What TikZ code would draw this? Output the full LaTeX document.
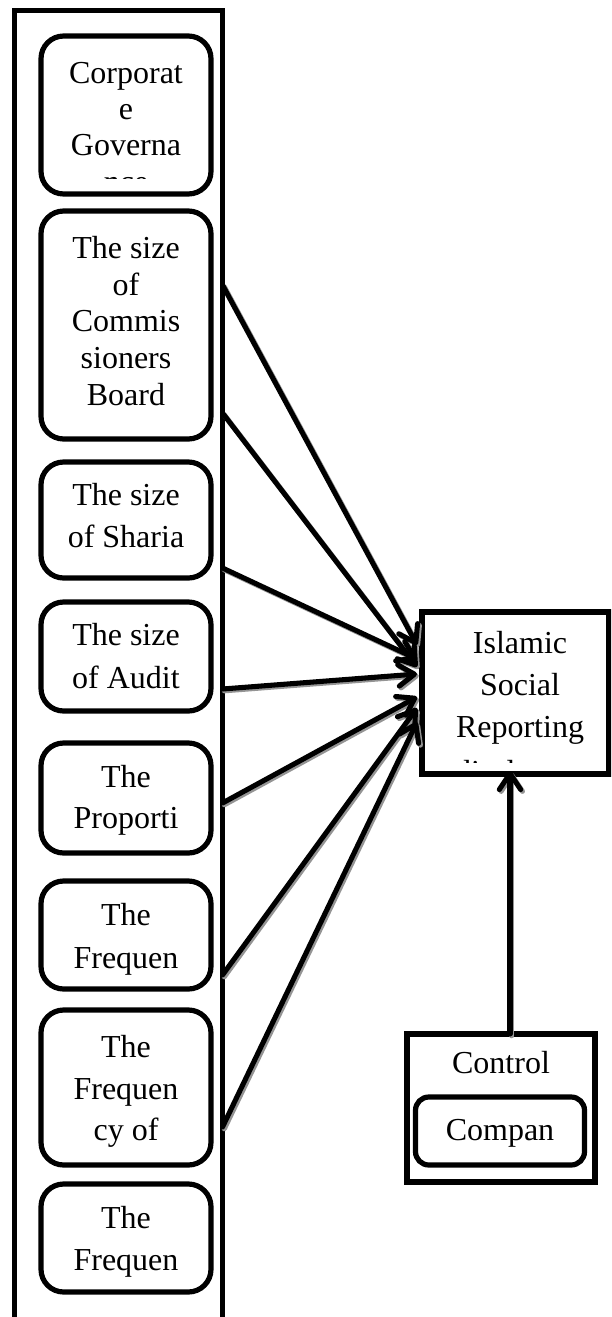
\documentclass[tikz,border=0pt]{standalone}
\usepackage{fontspec}
\setmainfont{Liberation Serif}
\usetikzlibrary{arrows.meta,fit}
\begin{document}
\begin{tikzpicture}[x=0.75pt,y=-0.75pt,
  boxline/.style={line width=3.9pt},
  sqbox/.style={draw, boxline, inner sep=0pt},
  rbox/.style={draw, boxline, inner sep=0pt, rounded corners=17pt},
  txt/.style={font=\fontsize{24}{28}\selectfont, inner sep=0pt, anchor=base},
  conn/.style={line width=3.8pt, line cap=round, -{Straight Barb[length=12pt,width=16pt,round]}},
  shadowline/.style={conn, draw=black!42}
]
\useasboundingbox (0,0) rectangle (611,1317);
\clip (0,0) rectangle (611,1317);
\fill[white] (0,0) rectangle (611,1317);

% outer frame
\node[sqbox, fit={(14.5,10.5)(222.5,1345)}] (outer) {};

% left boxes
\node[rbox, fit={(41,36)(211,194)}] (b1) {};
\node[rbox, fit={(41,211)(211,439)}] (b2) {};
\node[rbox, fit={(41,462)(211,578)}] (b3) {};
\node[rbox, fit={(41,602)(211,711)}] (b4) {};
\node[rbox, fit={(41,743)(211,853)}] (b5) {};
\node[rbox, fit={(41,881)(211,989)}] (b6) {};
\node[rbox, fit={(41,1010)(211,1165)}] (b7) {};
\node[rbox, fit={(41,1184)(211,1292)}] (b8) {};

% right boxes
\node[sqbox, fit={(422,612)(609,774)}] (isr) {};
\node[sqbox, fit={(407,1034)(595,1182)}] (ctrl) {};
\node[rbox, rounded corners=10pt, fit={(415.5,1097)(584.5,1165)}] (comp) {};

% texts
\foreach \lab/\y [count=\k] in {Corporat/83, e/119, Governa/155}
  \node[txt] (t1-\k) at (126,\y) {\lab};
\begin{scope}
  \clip (41,36) rectangle (211,178);
  \node[txt] (t1-4) at (126,192.5) {nce};
\end{scope}
\foreach \lab/\y [count=\k] in {The size/258, of/295, Commis/331, sioners/368, Board/405}
  \node[txt] (t2-\k) at (126,\y) {\lab};
\foreach \lab/\y [count=\k] in {The size/505, of Sharia/547}
  \node[txt] (t3-\k) at (126,\y) {\lab};
\foreach \lab/\y [count=\k] in {The size/645, of Audit/688}
  \node[txt] (t4-\k) at (126,\y) {\lab};
\foreach \lab/\y [count=\k] in {The/787, Proporti/828}
  \node[txt] (t5-\k) at (126,\y) {\lab};
\foreach \lab/\y [count=\k] in {The/925, Frequen/968}
  \node[txt] (t6-\k) at (126,\y) {\lab};
\foreach \lab/\y [count=\k] in {The/1057, Frequen/1099, cy of/1140}
  \node[txt] (t7-\k) at (126,\y) {\lab};
\foreach \lab/\y [count=\k] in {The/1228, Frequen/1270}
  \node[txt] (t8-\k) at (126,\y) {\lab};
\foreach \lab/\y [count=\k] in {Islamic/653, Social/695, Reporting/737}
  \node[txt] (ti-\k) at (520,\y) {\lab};
\begin{scope}
  \clip (422,612) rectangle (609,762);
  \node[txt] (ti-4) at (520,782.5) {disclosure};
\end{scope}
\node[txt] (tc) at (501,1073) {Control};
\node[txt] (tp) at (500,1140) {Compan};

% connector end points
\coordinate (s1) at (222.5,285);  \coordinate (e1) at (417,645);
\coordinate (s2) at (222.5,413);  \coordinate (e2) at (417,667);
\coordinate (s3) at (222.5,568);  \coordinate (e3) at (417,659);
\coordinate (s4) at (222.5,689);  \coordinate (e4) at (417,674);
\coordinate (s5) at (222.5,803);  \coordinate (e5) at (417,697);
\coordinate (s6) at (222.5,975);  \coordinate (e6) at (417,708);
\coordinate (s7) at (222.5,1127); \coordinate (e7) at (417,722);
\coordinate (v0) at (510,1034);   \coordinate (v1) at (510,771);

\foreach \s/\e in {s1/e1,s2/e2,s3/e3,s4/e4,s5/e5,s6/e6,s7/e7,v0/v1}
  \draw[shadowline] ([shift={(1.8,1.8)}]\s) -- ([shift={(1.8,1.8)}]\e);
\foreach \s/\e in {s1/e1,s2/e2,s3/e3,s4/e4,s5/e5,s6/e6,s7/e7,v0/v1}
  \draw[conn] (\s) -- (\e);
\end{tikzpicture}
\end{document}
